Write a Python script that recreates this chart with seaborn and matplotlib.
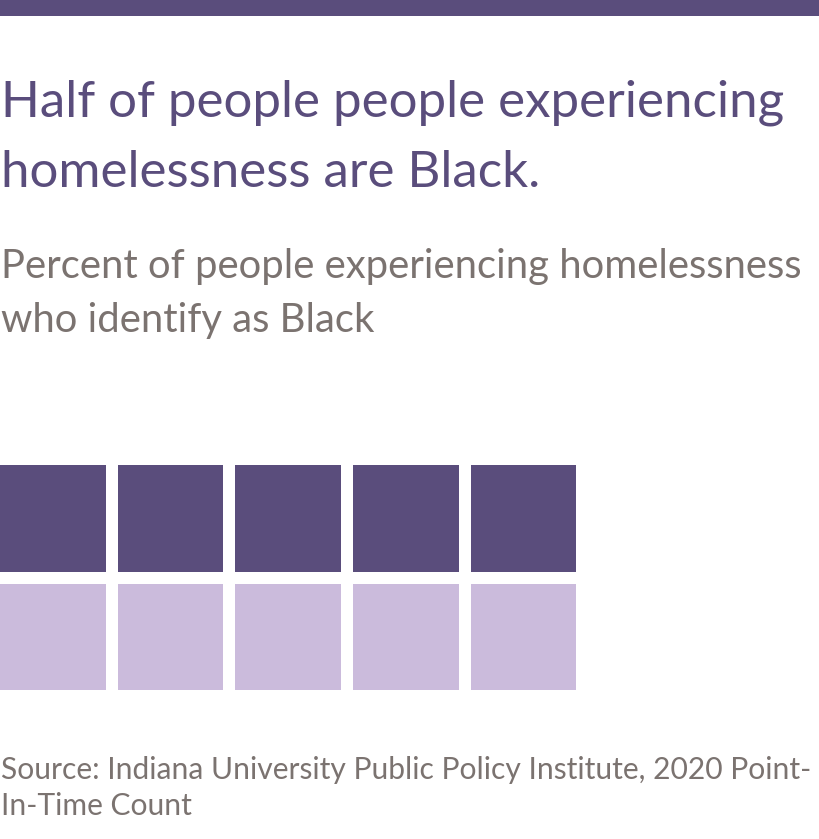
import matplotlib
matplotlib.use("Agg")
import matplotlib.pyplot as plt
import seaborn as sns
import numpy as np
import pandas as pd
from matplotlib.colors import ListedColormap
from matplotlib.patches import Rectangle

# ---- data ----
title_lines = ["Half of people people experiencing", "homelessness are Black."]
subtitle_lines = ["Percent of people experiencing homelessness", "who identify as Black"]
source_lines = ["Source: Indiana University Public Policy Institute, 2020 Point-", "In-Time Count"]
pct_black = 50          # percent
n_cells = 10
n_rows = 2
n_cols = 5

DARK = "#5a4d7c"
LIGHT = "#cbbbdc"
GREY = "#7b7370"

sns.set_theme(style="white")
plt.rcParams["font.family"] = ["Lato", "DejaVu Sans"]

W, H = 820, 839
fig = plt.figure(figsize=(W / 100, H / 100), dpi=100)
fig.patch.set_facecolor("white")

# top band
fig.patches.append(Rectangle((0, 1 - 16 / H), 1, 16 / H, transform=fig.transFigure,
                             facecolor=DARK, edgecolor="none"))

def fx(px):
    return px / W

def fy(py):
    return 1 - py / H

for i, t in enumerate(title_lines):
    fig.text(fx(1), fy(117 + i * 70), t, fontsize=36.7, color=DARK,
             fontweight="normal", va="baseline", ha="left")
for i, t in enumerate(subtitle_lines):
    fig.text(fx(1), fy(278 + i * 54), t, fontsize=28.8, color=GREY,
             fontweight="normal", va="baseline", ha="left")
for i, t in enumerate(source_lines):
    fig.text(fx(1), fy(779 + i * 36), t, fontsize=21.6, color=GREY,
             fontweight="normal", va="baseline", ha="left")

# waffle grid
n_filled = int(round(pct_black / 100 * n_cells))
vals = np.array([1 if k < n_filled else 0 for k in range(n_cells)]).reshape(n_rows, n_cols)
df = pd.DataFrame(vals)

pitch_x = 117.6
pitch_y = 118.6
lw_px = 11.7
left = -lw_px / 2
top = 465 - lw_px / 2
ax = fig.add_axes([fx(left), fy(top + n_rows * pitch_y), (n_cols * pitch_x) / W, (n_rows * pitch_y) / H])
sns.heatmap(df, ax=ax, cmap=ListedColormap([LIGHT, DARK]), vmin=0, vmax=1,
            cbar=False, linewidths=lw_px * 0.72, linecolor="white", square=False,
            xticklabels=False, yticklabels=False)
ax.set_axis_off()

fig.savefig("out.png", dpi=100, facecolor="white")
